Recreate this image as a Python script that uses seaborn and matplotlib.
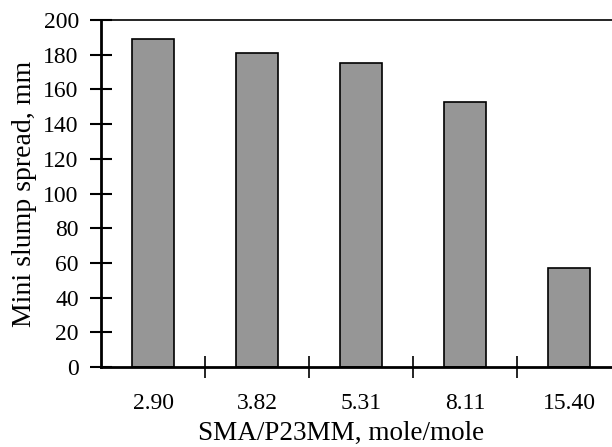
import matplotlib
matplotlib.use("Agg")
import matplotlib.pyplot as plt
import seaborn as sns
import pandas as pd

ratios = ["2.90", "3.82", "5.31", "8.11", "15.40"]
spread = [189, 181, 175, 153, 57]
y_ticks = [0, 20, 40, 60, 80, 100, 120, 140, 160, 180, 200]

sns.set_theme(style="white")
plt.rcParams["font.family"] = ["Liberation Serif", "DejaVu Serif"]

df = pd.DataFrame({"ratio": ratios, "spread": spread})

fig = plt.figure(figsize=(6.12, 4.47), dpi=100)
# axes runs a little past the right edge of the figure
ax = fig.add_axes([101 / 612, 80 / 447, 520 / 612, 347 / 447])

sns.barplot(data=df, x="ratio", y="spread", color="#969696", saturation=1,
            width=0.4, edgecolor="black", linewidth=1.2, ax=ax)

ax.set_xlim(-0.5, len(ratios) - 0.5)
ax.set_ylim(0, 200)
ax.set_yticks(y_ticks)
ax.tick_params(axis="y", direction="inout", length=16, width=1.5,
               labelsize=17, pad=8, colors="black", left=True)

# category labels under bars, ticks on the boundaries between them
ax.set_xticks(range(len(ratios)))
ax.set_xticklabels(ratios)
ax.tick_params(axis="x", length=0, labelsize=17, pad=19, colors="black")
ax.set_xticks([k + 0.5 for k in range(len(ratios) - 1)], minor=True)
ax.tick_params(axis="x", which="minor", direction="inout", length=16,
               width=1.2, color="black", bottom=True)

for side in ["left", "bottom"]:
    ax.spines[side].set_linewidth(2)
    ax.spines[side].set_color("black")
ax.spines["top"].set_linewidth(1.2)
ax.spines["top"].set_color("black")
ax.spines["right"].set_visible(False)

ax.set_xlabel("SMA/P23MM, mole/mole", fontsize=19.5, color="black")
ax.xaxis.label.set_va("baseline")
ax.xaxis.set_label_coords(0.4615, -0.211)
ax.set_ylabel("Mini slump spread, mm", fontsize=20, color="black")
ax.yaxis.label.set_va("center")
ax.yaxis.set_label_coords(-0.148, 0.5)

fig.savefig("out.png", dpi=100)
